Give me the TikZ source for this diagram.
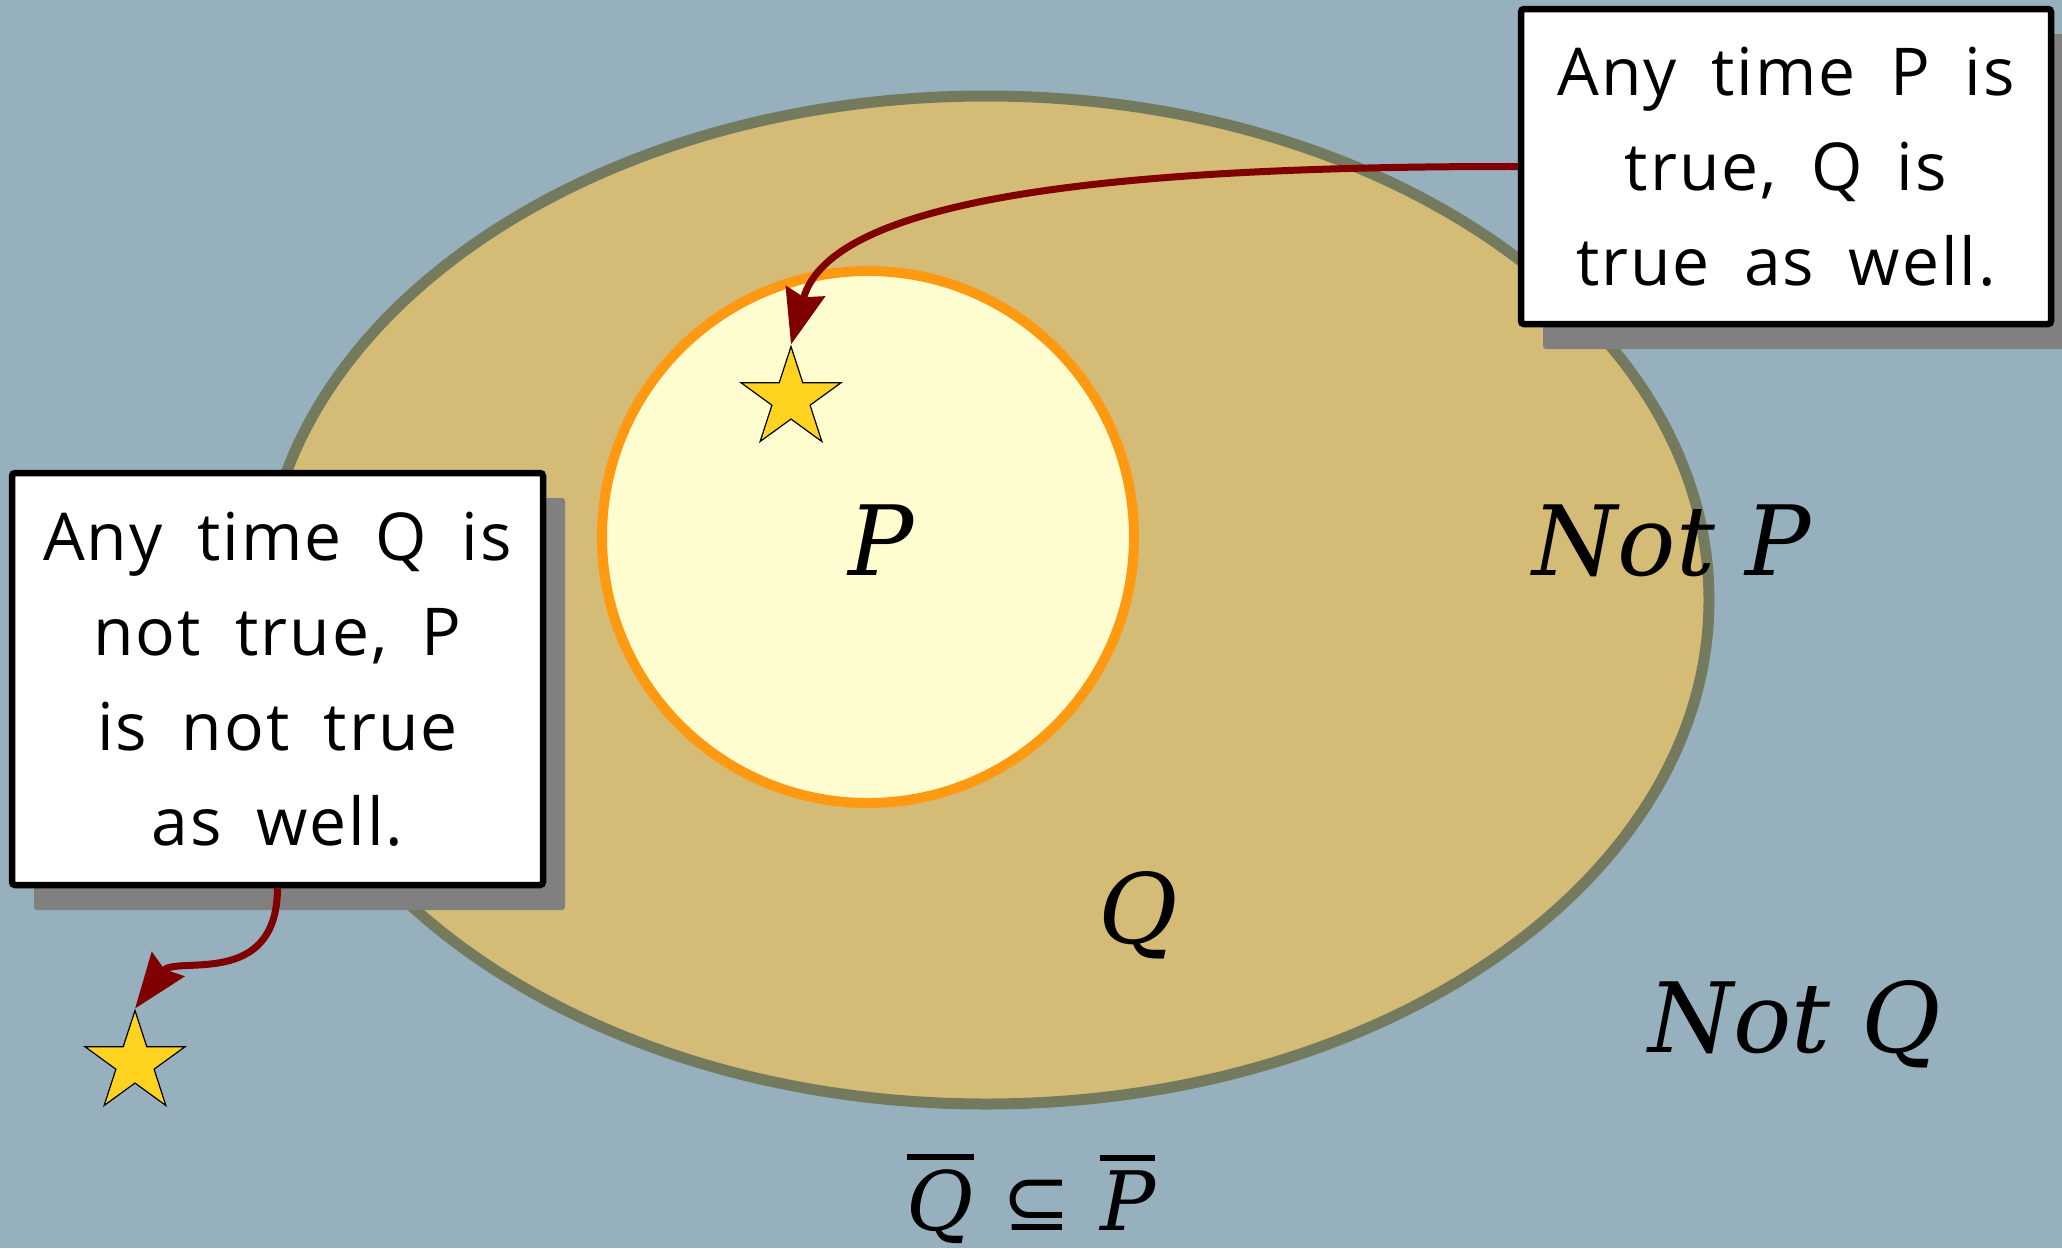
\documentclass[tikz,border=0pt]{standalone}
\usepackage{fontspec}
\setmainfont{Open Sans}[LetterSpace=3,WordSpace=1.8]
\newfontfamily\dvs{DejaVu Serif}
\newfontfamily\dvsans{DejaVu Sans}
\usetikzlibrary{shapes.geometric,arrows.meta,shadows}
\definecolor{bg}{HTML}{97B0BE}
\definecolor{qfill}{HTML}{D4BC76}
\definecolor{qedge}{HTML}{737A5E}
\definecolor{pfill}{HTML}{FFFDD0}
\definecolor{pedge}{HTML}{FF9912}
\definecolor{arrred}{HTML}{800000}
\definecolor{stary}{HTML}{FFD320}
\definecolor{shadowgray}{HTML}{808080}
\newcommand\myovl[1]{\vbox{\hrule height 6pt\kern 9pt\hbox{#1}}}
\begin{document}
\begin{tikzpicture}[x=1pt,y=-1pt,
  notebox/.style={draw=black, line width=6.5pt, fill=white, rounded corners=3pt,
    align=center, inner sep=0pt,
    font=\fontsize{66}{95}\selectfont,
    drop shadow={shadow xshift=22pt, shadow yshift=-25pt, fill=shadowgray, opacity=1}},
  starnode/.style={star, star points=5, star point ratio=2.618, minimum size=105pt,
    inner sep=0pt, fill=stary, draw=black, line width=1.2pt},
  arr/.style={draw=arrred, line width=7pt,
    -{Stealth[length=55pt, width=40pt, inset=6pt]}},
  mathlbl/.style={font=\dvs\itshape\fontsize{97}{110}\selectfont, inner sep=0pt, anchor=base}
]
\useasboundingbox (0,0) rectangle (2062,1248);
\fill[bg] (0,0) rectangle (2062,1248);
% sets
\draw[fill=qfill, draw=qedge, line width=11pt] (986,600) ellipse [x radius=723, y radius=504];
\draw[fill=pfill, draw=pedge, line width=10pt] (868,537) circle [radius=266];
% labels
\node[mathlbl] (lp) at (881,575) {P};
\node[mathlbl] (lnp) at (1672,575) {Not P};
\node[mathlbl] (lq) at (1138,943) {Q};
\node[mathlbl] (lnq) at (1795,1052) {Not Q};
\node[inner sep=0pt, anchor=base, font=\dvs\itshape\fontsize{82}{88}\selectfont] (formula) at (1031,1230)
  {\myovl{Q}\hspace{0.35em}{\dvsans\upshape ⊆}\hspace{0.35em}\myovl{P}};
% stars
\node[starnode] (s1) at (791,399) {};
\node[starnode] (s2) at (135,1063) {};
% boxes
\node[notebox, minimum width=530pt, minimum height=315pt] (tbox) at (1786,166.5)
  {Any time P is\\ true, Q is\\ true as well.};
\node[notebox, minimum width=531pt, minimum height=412pt] (lbox) at (277.5,679)
  {Any time Q is\\ not true, P\\ is not true\\ as well.};
% arrows
\draw[arr] (tbox.west) .. controls (1100,166) and (830,200) .. (s1.outer point 1);
\draw[arr] (lbox.south) .. controls (277,990) and (175,955) .. (s2.outer point 1);
\end{tikzpicture}
\end{document}
